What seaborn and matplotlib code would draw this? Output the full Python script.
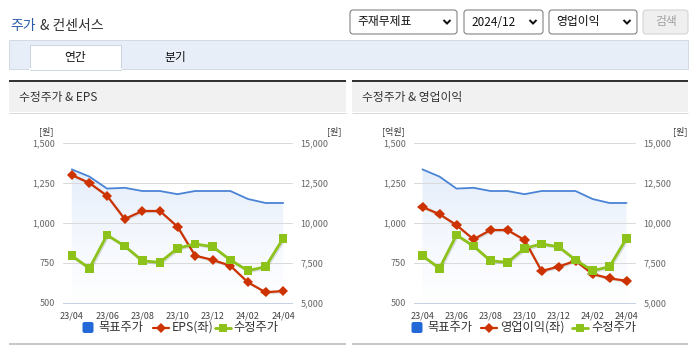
import numpy as np
import pandas as pd
import matplotlib
matplotlib.use("Agg")
import matplotlib.pyplot as plt
import seaborn as sns
from matplotlib.patches import Rectangle, FancyBboxPatch
from matplotlib.colors import LinearSegmentedColormap
import matplotlib.patheffects as pe

# ---------------- data ----------------
months = ['23/04', '23/05', '23/06', '23/07', '23/08', '23/09', '23/10',
          '23/11', '23/12', '24/01', '24/02', '24/03', '24/04']
target_price = [13350, 12900, 12150, 12200, 12000, 12000, 11800, 12000, 12000, 12000, 11500, 11250, 11250]
adj_price = [7950, 7170, 9250, 8560, 7640, 7540, 8420, 8690, 8520, 7690, 7020, 7270, 9040]
eps = [1300, 1250, 1170, 1025, 1075, 1075, 977, 796, 769, 733, 629, 567, 575]
op_profit = [1100, 1055, 987, 898, 956, 956, 894, 700, 727, 764, 681, 654, 639]

left_ticks = [500, 750, 1000, 1250, 1500]
left_tick_labels = ['500', '750', '1,000', '1,250', '1,500']
right_ticks = [5000, 7500, 10000, 12500, 15000]
right_tick_labels = ['5,000', '7,500', '10,000', '12,500', '15,000']
x_label_months = months[::2]

df = pd.DataFrame({'idx': np.arange(len(months)), 'month': months,
                   'target': target_price, 'price': adj_price,
                   'eps': eps, 'op': op_profit})

# ---------------- style ----------------
sns.set_style("white")
plt.rcParams['font.family'] = ['Noto Sans CJK KR', 'DejaVu Sans']

BLUE_LINE = '#4a84d6'
BLUE_LEG = '#2468d8'
RED = '#cc3300'
GREEN = '#8cc21a'
TXT = '#333333'
TICK = '#666666'
AXLINE = '#c5d2e2'

W, H = 695, 349
fig = plt.figure(figsize=(W / 100, H / 100), dpi=100)
fig.patch.set_facecolor('white')

bg = fig.add_axes([0, 0, 1, 1], zorder=0)
bg.set_xlim(0, W)
bg.set_ylim(H, 0)
bg.axis('off')

PX = 0.72  # points per pixel

# ---- page title ----
bg.text(10, 26, '주가', color='#2a5caa', fontsize=10, va='center', ha='left')
bg.text(40, 26, '& 컨센서스', color=TXT, fontsize=10, va='center', ha='left')

# ---- dropdowns ----
def dropdown(x0, x1, label, tx, chev):
    bg.add_patch(FancyBboxPatch((x0 + 2, 12), x1 - x0 - 4, 20,
                                boxstyle='round,pad=2,rounding_size=3',
                                fc='white', ec='#767676', lw=1 * PX))
    bg.text(tx, 22, label, fontsize=8.5, color='#111111', va='center', ha='left')
    bg.plot([chev - 3.5, chev, chev + 3.5], [20, 23.5, 20], color='#111111',
            lw=2 * PX, solid_capstyle='butt', solid_joinstyle='miter')

dropdown(350, 457, '주재무제표', 357, 447)
dropdown(464, 543, '2024/12', 471, 533)
dropdown(549, 637, '영업이익', 556, 627)
bg.add_patch(FancyBboxPatch((645, 12), 41, 20,
                            boxstyle='round,pad=2,rounding_size=3',
                            fc='#efefef', ec='#d0d0d0', lw=1 * PX))
bg.text(666, 22, '검색', fontsize=8.5, color='#a0a0a0', va='center', ha='center')

# ---- tab bar ----
bg.add_patch(Rectangle((9, 40), 679, 29, fc='#e8eef8', ec='#d3dae6', lw=1 * PX))
bg.add_patch(Rectangle((29.5, 45), 91, 25, fc='white', ec='#cdd5e2', lw=1 * PX))
bg.plot([30, 120.5], [69, 69], color='white', lw=2 * PX)
bg.text(75, 57, '연간', fontsize=8.5, color='#111111', va='center', ha='center')
bg.text(175, 57, '분기', fontsize=8.5, color='#111111', va='center', ha='center')

# ---- panel frames ----
def panel(x0, x1, title):
    bg.add_patch(Rectangle((x0, 81), x1 - x0, 31, fc='#f1f1f1', ec='none'))
    bg.plot([x0, x1], [80.5, 80.5], color='#333333', lw=2 * PX, solid_capstyle='butt')
    bg.plot([x0, x1], [112.5, 112.5], color='#d9d9d9', lw=1 * PX, solid_capstyle='butt')
    bg.plot([x0, x1], [343.5, 343.5], color='#c8c8c8', lw=2 * PX, solid_capstyle='butt')
    bg.text(x0 + 10, 97, title, fontsize=8.5, color=TXT, va='center', ha='left')

panel(9, 346, '수정주가 & EPS')
panel(352, 688, '수정주가 & 영업이익')

# ---- charts ----
grad_cmap = LinearSegmentedColormap.from_list('g', ['#ffffff', '#f3f7fd', '#e2ecfa'])


def chart(x0, x1, left_col, left_name, left_unit, unit_l_x, unit_r_x, legend_x):
    rect = [x0 / W, 1 - 303 / H, (x1 - x0) / W, 160 / H]
    axf = fig.add_axes(rect, zorder=1)
    axl = fig.add_axes(rect, zorder=2)
    axr = fig.add_axes(rect, zorder=3)
    for a in (axf, axl, axr):
        a.patch.set_visible(False)
        for s in a.spines.values():
            s.set_visible(False)
        a.set_xlim(-0.5, len(months) - 0.5)

    # area (target price) with gradient
    poly = axf.fill_between(df['idx'], df['target'], 5000, color='none', lw=0)
    grad = np.linspace(0, 1, 256).reshape(-1, 1)
    im = axf.imshow(grad, extent=[-0.5, len(months) - 0.5, 5000, 14000],
                    origin='lower', aspect='auto', cmap=grad_cmap, zorder=0)
    im.set_clip_path(poly.get_paths()[0], axf.transData)
    sns.lineplot(data=df, x='idx', y='target', ax=axf, color=BLUE_LINE,
                 lw=1.3, legend=False, zorder=3)
    axf.set_xlim(-0.5, len(months) - 0.5)
    axf.set_ylim(5000, 15000)
    axf.set_yticks(right_ticks)
    axf.tick_params(axis='y', left=False, labelleft=False, right=False, labelright=False)
    axf.grid(axis='y', color='#dadada', lw=1 * PX)
    for gl in axf.get_ygridlines():
        gl.set_clip_on(False)
    axf.spines['bottom'].set_visible(True)
    axf.spines['bottom'].set_color(AXLINE)
    axf.spines['bottom'].set_linewidth(1 * PX)
    axf.set_xticks(range(0, len(months), 2), x_label_months)
    axf.set_xticks([-0.5] + [i + 0.5 for i in range(0, len(months), 2)], minor=True)
    axf.tick_params(axis='x', which='major', length=0, pad=6, labelsize=6.5, labelcolor='#444444')
    axf.tick_params(axis='x', which='minor', length=5, width=1 * PX, color=AXLINE, direction='out')
    axf.set_xlabel('')
    axf.set_ylabel('')

    # left series (EPS / operating profit)
    sns.lineplot(data=df, x='idx', y=left_col, ax=axl, color=RED, lw=1.6,
                 marker='D', markersize=5.2, markeredgewidth=0, legend=False,
                 path_effects=[pe.SimpleLineShadow(offset=(0.8, -0.8), shadow_color='k', alpha=0.12),
                               pe.Normal()])
    axl.set_xlim(-0.5, len(months) - 0.5)
    axl.set_ylim(500, 1500)
    axl.set_yticks(left_ticks, left_tick_labels)
    axl.tick_params(axis='y', length=0, pad=6, labelsize=6.5, labelcolor=TICK)
    axl.set_xticks([])
    axl.set_xlabel('')
    axl.set_ylabel('')

    # adjusted price
    sns.lineplot(data=df, x='idx', y='price', ax=axr, color=GREEN, lw=2.0,
                 marker='s', markersize=6.2, markeredgewidth=0, legend=False,
                 path_effects=[pe.SimpleLineShadow(offset=(0.8, -0.8), shadow_color='k', alpha=0.12),
                               pe.Normal()])
    axr.set_xlim(-0.5, len(months) - 0.5)
    axr.set_ylim(5000, 15000)
    axr.yaxis.tick_right()
    axr.set_yticks(right_ticks, right_tick_labels)
    axr.tick_params(axis='y', length=0, pad=6, labelsize=6.5, labelcolor=TICK)
    axr.set_xticks([])
    axr.set_xlabel('')
    axr.set_ylabel('')

    # unit labels
    bg.text(unit_l_x, 131.5, left_unit, fontsize=6.5, color=TXT, ha='center', va='center')
    bg.text(unit_r_x, 131.5, '[원]', fontsize=6.5, color=TXT, ha='center', va='center')

    # legend
    ly = 327.5
    bx, rx, rtx, gx, gtx = legend_x
    bg.add_patch(FancyBboxPatch((bx - 4.5, ly - 4.5), 9, 9,
                                boxstyle='round,pad=1,rounding_size=2',
                                fc=BLUE_LEG, ec='none'))
    bg.text(bx + 10, ly, '목표주가', fontsize=8.8, color=TXT, ha='left', va='center')
    bg.plot([rx - 8, rx + 8], [ly, ly], color=RED, lw=1.6)
    bg.plot([rx], [ly], marker='D', color=RED, markersize=5, mew=0)
    bg.text(rtx, ly, left_name, fontsize=8.8, color=TXT, ha='left', va='center')
    bg.plot([gx - 8, gx + 8], [ly, ly], color=GREEN, lw=2)
    bg.plot([gx], [ly], marker='s', color=GREEN, markersize=6, mew=0)
    bg.text(gtx, ly, '수정주가', fontsize=8.8, color=TXT, ha='left', va='center')


chart(63, 292, 'eps', 'EPS(좌)', '[원]', 46, 334, (88, 161, 172, 223, 233))
chart(414, 635, 'op', '영업이익(좌)', '[억원]', 393, 680, (417, 489, 500, 580, 591))

fig.savefig('out.png', dpi=100, facecolor='white')
